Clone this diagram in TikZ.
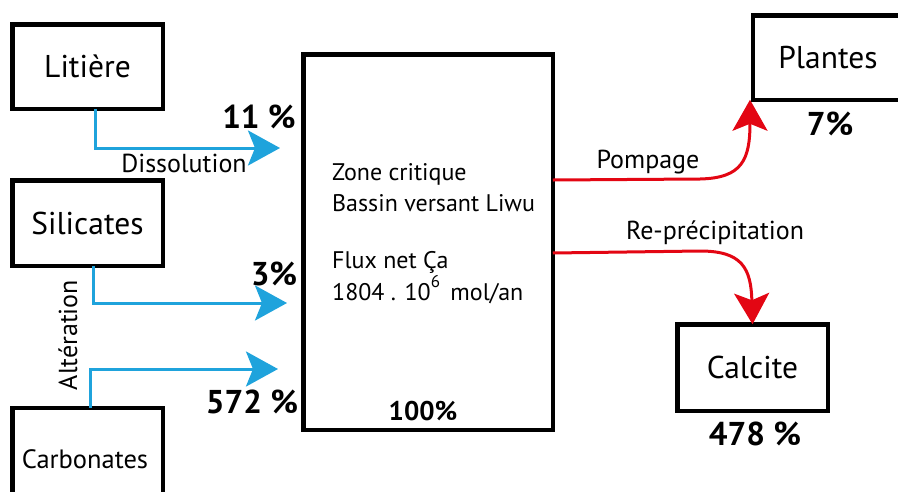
\documentclass[tikz,border=0pt]{standalone}
\usepackage{fontspec}
\setmainfont{PT Sans}
\usetikzlibrary{arrows.meta}
\definecolor{fblue}{HTML}{1FA3DC}
\definecolor{fred}{HTML}{E30613}
\tikzset{
  box/.style={draw=black, line width=4.5pt, rectangle, inner sep=0pt, outer sep=0pt},
  bluearrow/.style={draw=fblue, line width=3pt, -{Stealth[length=32pt, width=35pt, inset=7pt]}},
  redarrow/.style={draw=fred, line width=3pt, -{Stealth[length=31pt, width=35pt, inset=7pt]}},
  boxtext/.style={font=\fontsize{31.5}{34}\selectfont},
  lbl/.style={font=\fontsize{24}{26}\selectfont, inner sep=0pt},
  flbl/.style={font=\fontsize{26}{28}\selectfont, inner sep=0pt},
  pct/.style={font=\fontsize{33}{35}\selectfont\bfseries, inner sep=0pt},
}
\begin{document}
\begin{tikzpicture}[x=1pt, y=-1pt]
\useasboundingbox (0,0) rectangle (898,491);
% boxes
\node[box, minimum width=150.5pt, minimum height=84.5pt, boxtext] (lit) at (87.5,66.5) {Litière};
\node[box, minimum width=150.5pt, minimum height=85.5pt, boxtext] (sil) at (87.5,223) {Silicates};
\node[box, minimum width=150.5pt, minimum height=102pt, font=\fontsize{26.5}{28}\selectfont] (car) at (87.5,459) {\hspace*{-5pt}Carbonates};
\node[box, minimum width=249.5pt, minimum height=375.5pt] (zone) at (428,242) {};
\node[box, minimum width=150.5pt, minimum height=84.5pt, boxtext] (pla) at (828,57.5) {Plantes};
\node[box, minimum width=150.5pt, minimum height=86.5pt, boxtext] (cal) at (752.5,367.5) {Calcite};
% central texts
\node[lbl, anchor=west] (t1) at (332,174) {Zone critique};
\node[lbl, anchor=west] (t2) at (332,203) {Bassin versant Liwu};
\node[lbl, anchor=west] (t3) at (332,262) {Flux net Ça};
\node[lbl, anchor=west] (t4) at (332,290) {1804 . 10\raisebox{0.55em}{\fontsize{17}{18}\selectfont 6}\, mol/an};
\node[pct, font=\fontsize{27}{29}\selectfont\bfseries] (p100) at (423,411) {100\%};
% coordinates
\coordinate (litin) at (280,148);
\coordinate (silin) at (287,303);
\coordinate (carin) at (278,369);
% blue arrows
\draw[bluearrow] (lit.south -| 95,0) |- (litin);
\draw[bluearrow] (sil.south -| 93,0) |- (silin);
\draw[bluearrow] (car.north -| 90,0) |- (carin);
% labels left
\node[pct] (p11) at (259,117) {11 \%};
\node[flbl] (dis) at (184,163) {Dissolution};
\node[pct] (p3) at (274,274) {3\%};
\node[pct] (p572) at (252,402) {572 \%};
\node[flbl, rotate=90] (alt) at (68,335) {Altération};
% red arrows
\coordinate (pomp) at (zone.east |- 0,180);
\coordinate (repr) at (zone.east |- 0,253);
\draw[redarrow] (pomp) -- (700,179) .. controls (742,178) and (750,160) .. (pla.south west -| 750,0);
\draw[redarrow] (repr) -- (700,251) .. controls (742,251) and (751,268) .. (cal.north);
\node[flbl] (pom) at (648,162) {Pompage};
\node[flbl] (rep) at (715,233) {Re-précipitation};
\node[pct] (p7) at (830,124) {7\%};
\node[pct] (p478) at (755,434) {478 \%};
\end{tikzpicture}
\end{document}
